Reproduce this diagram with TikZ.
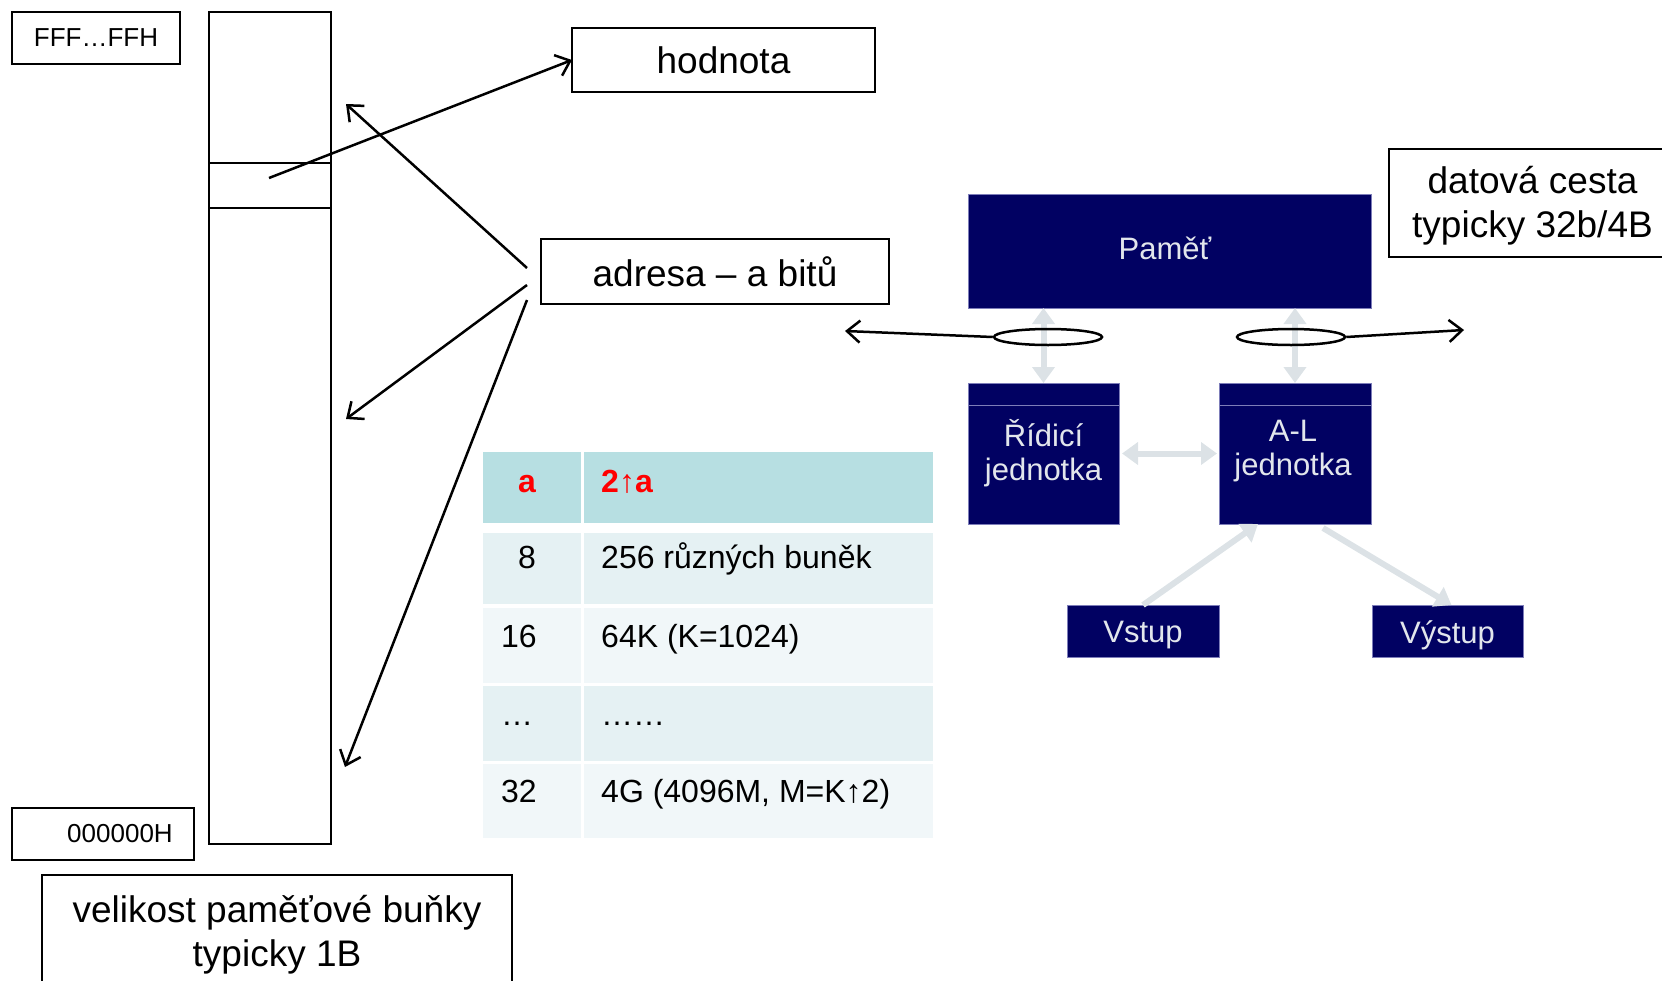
\documentclass[tikz,border=0pt]{standalone}
\usepackage{fontspec}
\setmainfont{Liberation Sans}
\usetikzlibrary{arrows.meta,shapes.geometric,calc}

\definecolor{navybox}{RGB}{1,1,98}
\definecolor{navyedge}{RGB}{125,125,185}
\definecolor{boxtext}{RGB}{226,230,236}
\definecolor{flow}{RGB}{220,226,230}
\definecolor{headfill}{RGB}{183,223,226}
\definecolor{rowa}{RGB}{229,241,243}
\definecolor{rowb}{RGB}{241,247,249}
\definecolor{headred}{RGB}{255,0,0}

\newcommand\fsz[2]{\fontsize{#1}{#2}\selectfont}
\newcommand\biglabel{\fsz{37}{44}}

\begin{document}
\begin{tikzpicture}[x=1pt,y=-1pt,
  frame/.style={draw, line width=2.5pt, inner sep=0pt, outer sep=0pt, align=center},
  ptr/.style={line width=2.5pt, -{Straight Barb[length=13pt,width=22pt]}},
  unit/.style={fill=navybox, draw=navyedge, line width=0.8pt, inner sep=0pt, outer sep=0pt,
    text=boxtext, font=\fsz{31}{34}, align=center},
  unitlabel/.style={text=boxtext, font=\fsz{31}{34}, inner sep=0pt},
  divider/.style={draw=navyedge, line width=1pt},
  flowarrow/.style={draw=flow, line width=6pt, -{Triangle[length=16pt,width=22pt]}},
  flowboth/.style={draw=flow, line width=6pt,
    {Triangle[length=16pt,width=22pt]}-{Triangle[length=16pt,width=22pt]}},
  bus/.style={draw, line width=2.5pt, ellipse, minimum width=108pt,
    minimum height=16pt, inner sep=0pt},
  celltext/.style={font=\fsz{32}{36}, inner sep=0pt},
  headtext/.style={celltext, font=\fsz{32}{36}\bfseries, text=headred}
]
\clip (0,0) rectangle (1662,980);

% ---- memory as a column of cells ----
\node[frame, anchor=north west, minimum width=122pt, minimum height=832pt] (mem) at (209,12) {};
\node[frame, anchor=north west, minimum width=122pt, minimum height=45pt] (cell) at (209,163) {};

\node[frame, minimum width=168pt, minimum height=52pt, font=\fsz{26}{30}] (hi) at (96,38) {FFF…FFH};
\node[frame, minimum width=182pt, minimum height=52pt] (lo) at (103,834) {};
\node[font=\fsz{26}{30}, inner sep=0pt] (lotext) at (120,834) {000000H};

\node[frame, anchor=north west, minimum width=470pt, minimum height=140pt] (cellsize) at (42,875) {};
\node[font=\biglabel, align=center, inner sep=0pt] (cellsizetext) at (277,935)
  {velikost paměťové buňky\\typicky 1B};

\node[frame, minimum width=303pt, minimum height=64pt, font=\biglabel] (value) at (723.5,60) {hodnota};
\node[frame, minimum width=348pt, minimum height=65pt, font=\biglabel] (addr) at (715,271.5) {adresa – a bitů};
\node[frame, minimum width=287pt, minimum height=108pt] (path) at (1532.5,203) {};
\node[font=\biglabel, align=center, inner sep=0pt] (pathtext) at (1532.5,206)
  {datová cesta\\typicky 32b/4B};

% cell content goes to the value box
\coordinate (cellpt) at (269,178);
\draw[ptr] (cellpt) -- (value.west);

% the address selects a cell
\coordinate (a1) at (527,268);
\coordinate (a2) at (527,285);
\coordinate (a3) at (527,300);
\coordinate (t1) at (346,104);
\coordinate (t2) at (346,419);
\coordinate (t3) at (345,767);
\draw[ptr] (a1) -- (t1);
\draw[ptr] (a2) -- (t2);
\draw[ptr] (a3) -- (t3);

% ---- address width table ----
\fill[headfill] (483,452) rectangle (581,523);
\fill[headfill] (584,452) rectangle (933,523);
\fill[rowa] (483,533) rectangle (581,604);
\fill[rowa] (584,533) rectangle (933,604);
\fill[rowb] (483,608) rectangle (581,683);
\fill[rowb] (584,608) rectangle (933,683);
\fill[rowa] (483,686) rectangle (581,761);
\fill[rowa] (584,686) rectangle (933,761);
\fill[rowb] (483,764) rectangle (581,838);
\fill[rowb] (584,764) rectangle (933,838);

\node[headtext, anchor=base] (h1) at (527,492) {a};
\node[headtext, anchor=base west] (h2) at (601,492) {2\mdseries↑\bfseries a};
\node[celltext, anchor=base] (r1a) at (527,568) {8};
\node[celltext, anchor=base west] (r1b) at (601,568) {256 různých buněk};
\node[celltext, anchor=base west] (r2a) at (501,647) {16};
\node[celltext, anchor=base west] (r2b) at (601,647) {64K (K=1024)};
\node[celltext, anchor=base west] (r3a) at (501,725) {…};
\node[celltext, anchor=base west] (r3b) at (601,725) {……};
\node[celltext, anchor=base west] (r4a) at (501,802) {32};
\node[celltext, anchor=base west] (r4b) at (601,802) {4G (4096M, M=K↑2)};

% ---- computer block diagram ----
\node[unit, minimum width=403pt, minimum height=114pt] (mempart) at (1169.5,251) {};
\node[unitlabel] (memtext) at (1165,248) {Paměť};
\node[unit, minimum width=151pt, minimum height=141pt] (ctrl) at (1043.5,453.5) {Řídicí\\jednotka};
\node[unit, minimum width=152pt, minimum height=141pt] (alu) at (1295,453.5) {};
\node[unitlabel, align=center] (alutext) at (1293,451) {A-L\\jednotka};
\draw[divider] ($(ctrl.north west)+(0.5,22)$) -- ($(ctrl.north east)+(-0.5,22)$);
\draw[divider] ($(alu.north west)+(0.5,22)$) -- ($(alu.north east)+(-0.5,22)$);
\node[unit, minimum width=152pt, minimum height=52pt] (in) at (1143,631) {};
\node[unitlabel] (intext) at (1143,635) {Vstup};
\node[unit, minimum width=151pt, minimum height=52pt] (out) at (1447.5,631) {};
\node[unitlabel] (outtext) at (1447.5,635) {Výstup};

\draw[flowboth] (ctrl.north |- mempart.south) -- (ctrl.north);
\draw[flowboth] (alu.north |- mempart.south) -- (alu.north);
\draw[flowboth, shorten <=3pt, shorten >=2pt] (ctrl.east) -- (alu.west);
\draw[flowarrow] (in.north) -- ($(alu.south)+(-37,0)$);
\draw[flowarrow] ($(alu.south)+(28,4)$) -- ($(out.north)+(4,0)$);

% data path buses
\node[bus] (busl) at (1048,337) {};
\node[bus] (busr) at (1291,337) {};
\coordinate (bl) at (845,331);
\coordinate (br) at (1464,330);
\draw[ptr] (busl.west) -- (bl);
\draw[ptr] (busr.east) -- (br);
\end{tikzpicture}
\end{document}
